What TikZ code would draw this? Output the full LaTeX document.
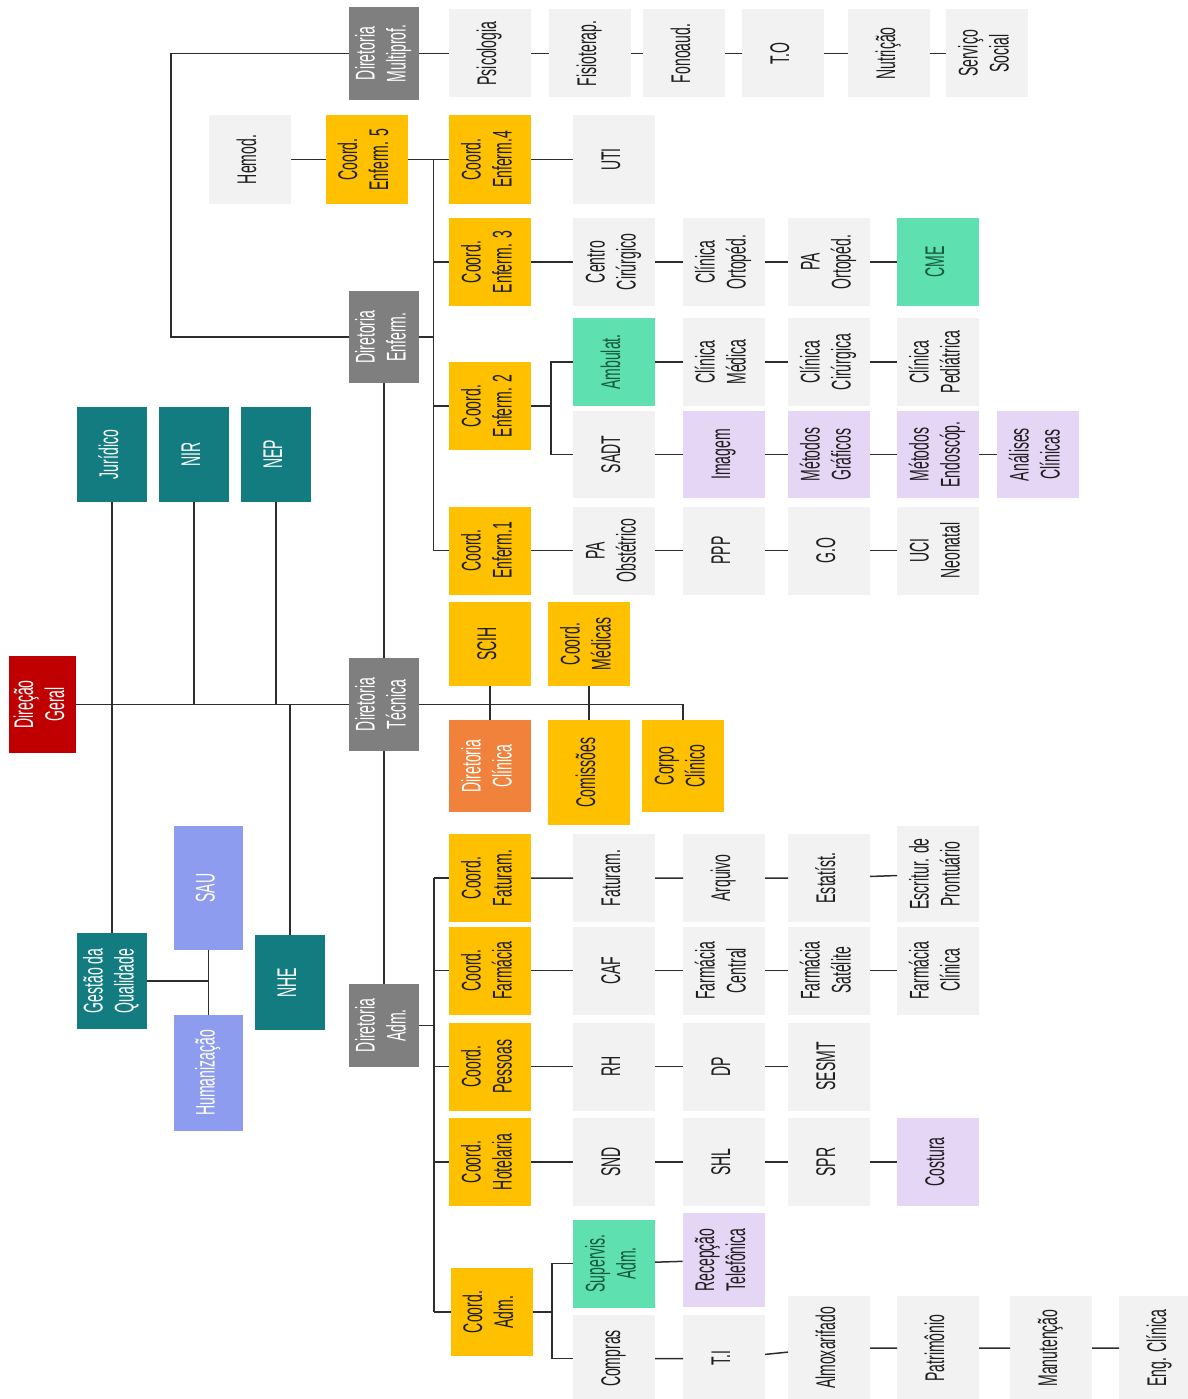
\documentclass[tikz,border=0pt]{standalone}
\usepackage{fontspec}
\usepackage{graphicx}
\newfontfamily\narrowfont[FakeStretch=0.52]{Liberation Sans}
\newcommand{\cellfont}{\narrowfont\fontsize{27}{31}\selectfont}
\newcommand{\vlab}[1]{\rotatebox{90}{\begin{tabular}{@{}c@{}}#1\end{tabular}}}
\usepackage{color}
\definecolor{dirgray}{RGB}{127, 127, 127}
\definecolor{coordyellow}{RGB}{255, 192, 0}
\definecolor{cellgray}{RGB}{242, 242, 242}
\definecolor{nucleoteal}{RGB}{19, 124, 128}
\definecolor{geralred}{RGB}{192, 0, 0}
\definecolor{clinorange}{RGB}{240, 130, 60}
\definecolor{mint}{RGB}{95, 224, 176}
\definecolor{mintink}{RGB}{20, 90, 55}
\definecolor{lilac}{RGB}{230, 214, 245}
\definecolor{periwinkle}{RGB}{142, 156, 239}
\definecolor{linkgray}{RGB}{45, 45, 45}
\definecolor{inkblack}{RGB}{30, 30, 30}

\begin{document}
\begin{tikzpicture}[x=1pt, y=-1pt,
    cell/.style={inner sep=0pt, outer sep=0pt, font=\cellfont, text=inkblack},
    diretoria/.style={cell, fill=dirgray, text=white, minimum width=70pt, minimum height=93pt},
    coordbox/.style={cell, fill=coordyellow, minimum width=82pt, minimum height=88pt},
    setor/.style={cell, fill=cellgray, minimum width=82pt, minimum height=88pt},
    exame/.style={cell, fill=lilac, minimum width=82pt, minimum height=88pt},
    unidade/.style={cell, fill=mint, text=mintink, minimum width=82pt, minimum height=88pt},
    nucleo/.style={cell, fill=nucleoteal, text=white, minimum width=70pt, minimum height=95pt},
    ouvid/.style={cell, fill=periwinkle, text=white, minimum width=69pt},
    link/.style={draw=linkgray, line width=1.5pt}]

    % Frame to fix the page
    \useasboundingbox (0, 0) rectangle (1187, 1399);

    % Bus lines
    \coordinate (multbend) at (171, 53.5);
    \coordinate (enfbus)   at (433.5, 0);
    \coordinate (ambbus)   at (551, 0);
    \coordinate (admbus)   at (434, 0);
    \coordinate (cadmbus)  at (552, 0);

    % Diretoria Multiprof.
    \node[diretoria]             (dmulti)   at ( 384.0,   53.5) {\vlab{Diretoria\\Multiprof.}};
    \node[setor]                 (psico)    at ( 490.0,   53.5) {\vlab{Psicologia}};
    \node[setor]                 (fisio)    at ( 590.0,   53.5) {\vlab{Fisioterap.}};
    \node[setor]                 (fono)     at ( 684.0,   53.5) {\vlab{Fonoaud.}};
    \node[setor]                 (tocup)    at ( 783.0,   53.5) {\vlab{T.O}};
    \node[setor]                 (nutri)    at ( 889.0,   53.5) {\vlab{Nutrição}};
    \node[setor]                 (social)   at ( 987.0,   53.5) {\vlab{Serviço\\Social}};

    % Enferm. 5 and 4
    \node[setor]                 (hemod)    at ( 250.0,  159.5) {\vlab{Hemod.}};
    \node[coordbox]              (ce5)      at ( 366.5,  159.5) {\vlab{Coord.\\Enferm. 5}};
    \node[coordbox]              (ce4)      at ( 490.0,  159.5) {\vlab{Coord.\\Enferm.4}};
    \node[setor]                 (uti)      at ( 614.0,  159.5) {\vlab{UTI}};

    % Enferm. 3
    \node[coordbox]              (ce3)      at ( 490.0,  262.0) {\vlab{Coord.\\Enferm. 3}};
    \node[setor]                 (ccir)     at ( 614.0,  262.0) {\vlab{Centro\\Cirúrgico}};
    \node[setor]                 (cort)     at ( 724.0,  262.0) {\vlab{Clínica\\Ortopéd.}};
    \node[setor]                 (paort)    at ( 829.0,  262.0) {\vlab{PA\\Ortopéd.}};
    \node[unidade]               (cme)      at ( 938.0,  262.0) {\vlab{CME}};

    \node[diretoria, minimum height=92pt] (denf) at (384.0, 337.0) {\vlab{Diretoria\\Enferm.}};

    % Enferm. 2
    \node[coordbox]              (ce2)      at ( 490.0,  406.0) {\vlab{Coord.\\Enferm. 2}};
    \node[unidade]               (ambul)    at ( 614.0,  362.0) {\vlab{Ambulat.}};
    \node[setor]                 (cmedica)  at ( 724.0,  362.0) {\vlab{Clínica\\Médica}};
    \node[setor]                 (ccirg)    at ( 829.0,  362.0) {\vlab{Clínica\\Cirúrgica}};
    \node[setor]                 (cped)     at ( 938.0,  362.0) {\vlab{Clínica\\Pediátrica}};
    \node[setor, minimum height=87pt] (sadt) at (614.0, 454.5) {\vlab{SADT}};
    \node[exame, minimum height=87pt] (imagem)   at ( 724.0, 454.5) {\vlab{Imagem}};
    \node[exame, minimum height=87pt] (mgraf)    at ( 829.0, 454.5) {\vlab{Métodos\\Gráficos}};
    \node[exame, minimum height=87pt] (mendo)    at ( 938.0, 454.5) {\vlab{Métodos\\Endoscóp.}};
    \node[exame, minimum height=87pt] (analises) at (1038.0, 454.5) {\vlab{Análises\\Clínicas}};

    % Enferm. 1
    \node[coordbox]              (ce1)      at ( 490.0,  550.5) {\vlab{Coord.\\Enferm.1}};
    \node[setor]                 (paobs)    at ( 614.0,  550.5) {\vlab{PA\\Obstétrico}};
    \node[setor]                 (ppp)      at ( 724.0,  550.5) {\vlab{PPP}};
    \node[setor]                 (gobst)    at ( 829.0,  550.5) {\vlab{G.O}};
    \node[setor]                 (ucin)     at ( 938.0,  550.5) {\vlab{UCI\\Neonatal}};

    % Nucleos
    \node[nucleo]                (juridico) at ( 112.0,  454.5) {\vlab{Jurídico}};
    \node[nucleo]                (nir)      at ( 194.0,  454.5) {\vlab{NIR}};
    \node[nucleo]                (nep)      at ( 276.0,  454.5) {\vlab{NEP}};

    % Direcao and Diretoria Tecnica
    \node[cell, fill=geralred, text=white, minimum width=67pt, minimum height=97pt]
                                 (dgeral)   at (  42.5,  704.5) {\vlab{Direção\\Geral}};
    \node[diretoria]             (dtec)     at ( 384.0,  704.5) {\vlab{Diretoria\\Técnica}};
    \node[coordbox, minimum height=84pt]  (scih)     at (490.0, 644.0) {\vlab{SCIH}};
    \node[coordbox, minimum height=84pt]  (cmedicas) at (589.0, 644.0) {\vlab{Coord.\\Médicas}};
    \node[cell, fill=clinorange, text=white, minimum width=82pt, minimum height=92pt]
                                 (dclin)    at ( 490.0,  766.0) {\vlab{Diretoria\\Clínica}};
    \node[coordbox, minimum height=105pt] (comis)    at (589.0, 772.5) {\vlab{Comissões}};
    \node[coordbox, minimum height=92pt]  (corpo)    at (683.0, 766.0) {\vlab{Corpo\\Clínico}};

    % Qualidade
    \node[ouvid, minimum height=124pt]    (sau)      at (208.5, 888.0) {\vlab{SAU}};
    \node[ouvid, minimum height=116pt]    (humaniz)  at (208.5, 1073.0) {\vlab{Humanização}};
    \node[nucleo, minimum height=96pt]    (gqual)    at (112.0, 981.0) {\vlab{Gestão da\\Qualidade}};
    \node[nucleo]                (nhe)      at ( 290.0,  982.5) {\vlab{NHE}};
    \node[diretoria, minimum height=83pt] (dadm)     at (384.0, 1025.5) {\vlab{Diretoria\\Adm.}};

    % Faturam.
    \node[coordbox]              (cfat)     at ( 490.0,  878.0) {\vlab{Coord.\\Faturam.}};
    \node[setor]                 (faturam)  at ( 614.0,  878.0) {\vlab{Faturam.}};
    \node[setor]                 (arquivo)  at ( 724.0,  878.0) {\vlab{Arquivo}};
    \node[setor]                 (estat)    at ( 829.0,  878.0) {\vlab{Estatíst.}};
    \node[setor, minimum height=96pt] (escrit) at (938.0, 874.0) {\vlab{Escritur. de\\Prontuário}};

    % Farmacia
    \node[coordbox]              (cfarm)    at ( 490.0,  970.5) {\vlab{Coord.\\Farmácia}};
    \node[setor]                 (caf)      at ( 614.0,  970.5) {\vlab{CAF}};
    \node[setor]                 (fcentral) at ( 724.0,  970.5) {\vlab{Farmácia\\Central}};
    \node[setor]                 (fsatel)   at ( 829.0,  970.5) {\vlab{Farmácia\\Satélite}};
    \node[setor]                 (fclin)    at ( 938.0,  970.5) {\vlab{Farmácia\\Clínica}};

    % Pessoas
    \node[coordbox]              (cpess)    at ( 490.0, 1066.5) {\vlab{Coord.\\Pessoas}};
    \node[setor]                 (rh)       at ( 614.0, 1066.5) {\vlab{RH}};
    \node[setor]                 (dp)       at ( 724.0, 1066.5) {\vlab{DP}};
    \node[setor]                 (sesmt)    at ( 829.0, 1066.5) {\vlab{SESMT}};

    % Hotelaria
    \node[coordbox]              (chotel)   at ( 490.0, 1162.0) {\vlab{Coord.\\Hotelaria}};
    \node[setor]                 (snd)      at ( 614.0, 1162.0) {\vlab{SND}};
    \node[setor]                 (shl)      at ( 724.0, 1162.0) {\vlab{SHL}};
    \node[setor]                 (spr)      at ( 829.0, 1162.0) {\vlab{SPR}};
    \node[exame]                 (costura)  at ( 938.0, 1162.0) {\vlab{Costura}};

    % Coord. Adm.
    \node[coordbox]              (cadm)     at ( 491.5, 1312.0) {\vlab{Coord.\\Adm.}};
    \node[unidade]               (supadm)   at ( 614.0, 1263.5) {\vlab{Supervis.\\Adm.}};
    \node[exame, minimum height=94pt]  (recepcao) at ( 723.5, 1260.0) {\vlab{Recepção\\Telefônica}};
    \node[setor, minimum height=87pt]  (compras)  at ( 614.0, 1358.5) {\vlab{Compras}};
    \node[setor, minimum height=87pt]  (tinfo)    at ( 724.0, 1358.5) {\vlab{T.I}};
    \node[setor, minimum height=104pt] (almox)    at ( 829.0, 1348.0) {\vlab{Almoxarifado}};
    \node[setor, minimum height=104pt] (patrim)   at ( 938.0, 1348.0) {\vlab{Patrimônio}};
    \node[setor, minimum height=104pt] (manut)    at (1051.0, 1348.0) {\vlab{Manutenção}};
    \node[setor, minimum height=104pt] (engclin)  at (1160.0, 1348.0) {\vlab{Eng. Clínica}};

    % Multiprof. chain
    \draw[link] (dmulti.west) -- (multbend) |- (denf.west);
    \draw[link] (dmulti) -- (psico) (psico) -- (fisio) (fisio) -- (fono) (fono) -- (tocup)
                (tocup) -- (nutri) (nutri) -- (social);

    % Enferm. bus
    \draw[link] (hemod) -- (ce5) (ce5) -- (ce4) (ce4) -- (uti);
    \draw[link] (enfbus |- ce5) -- (enfbus |- ce1);
    \draw[link] (denf.east) -- (enfbus |- denf);
    \draw[link] (enfbus |- ce3) -- (ce3.west);
    \draw[link] (enfbus |- ce2) -- (ce2.west);
    \draw[link] (enfbus |- ce1) -- (ce1.west);
    \draw[link] (ce3) -- (ccir) (ccir) -- (cort) (cort) -- (paort) (paort) -- (cme);
    \draw[link] (ce2.east) -- (ambbus |- ce2);
    \draw[link] (ambul.west) -- (ambbus |- ambul) -- (ambbus |- sadt) -- (sadt.west);
    \draw[link] (ambul) -- (cmedica) (cmedica) -- (ccirg) (ccirg) -- (cped);
    \draw[link] (sadt) -- (imagem) (imagem) -- (mgraf) (mgraf) -- (mendo) (mendo) -- (analises);
    \draw[link] (ce1) -- (paobs) (paobs) -- (ppp) (ppp) -- (gobst) (gobst) -- (ucin);

    % Direcao Geral
    \draw[link] (dgeral.east) -- (dtec.west);
    \draw[link] (juridico.south) -- (gqual.north);
    \draw[link] (nir.south) -- (nir.south |- dgeral);
    \draw[link] (nep.south) -- (nep.south |- dgeral);
    \draw[link] (nhe.north) -- (nhe.north |- dgeral);
    \draw[link] (gqual.east) -- (gqual.east -| sau.south);
    \draw[link] (sau.south) -- (humaniz.north);

    % Diretoria Tecnica
    \draw[link] (denf.south) -- (dtec.north);
    \draw[link] (dtec.south) -- (dadm.north);
    \draw[link] (dtec.east) -| (corpo.north);
    \draw[link] (scih.south) -- (dclin.north);
    \draw[link] (cmedicas.south) -- (comis.north);

    % Adm. bus
    \draw[link] (dadm.east) -- (admbus |- dadm);
    \draw[link] (admbus |- cfat) -- (admbus |- cadm);
    \draw[link] (admbus |- cfat) -- (cfat.west);
    \draw[link] (admbus |- cfarm) -- (cfarm.west);
    \draw[link] (admbus |- cpess) -- (cpess.west);
    \draw[link] (admbus |- chotel) -- (chotel.west);
    \draw[link] (admbus |- cadm) -- (cadm.west);
    \draw[link] (cfat) -- (faturam) (faturam) -- (arquivo) (arquivo) -- (estat) (estat) -- (escrit);
    \draw[link] (cfarm) -- (caf) (caf) -- (fcentral) (fcentral) -- (fsatel) (fsatel) -- (fclin);
    \draw[link] (cpess) -- (rh) (rh) -- (dp) (dp) -- (sesmt);
    \draw[link] (chotel) -- (snd) (snd) -- (shl) (shl) -- (spr) (spr) -- (costura);

    % Coord. Adm. branch
    \draw[link] (cadm.east) -- (cadmbus |- cadm);
    \draw[link] (supadm.west) -- (cadmbus |- supadm) -- (cadmbus |- compras) -- (compras.west);
    \draw[link] (supadm) -- (recepcao);
    \draw[link] (compras) -- (tinfo) (tinfo) -- (almox) (almox) -- (patrim) (patrim) -- (manut)
                (manut) -- (engclin);
\end{tikzpicture}
\end{document}
